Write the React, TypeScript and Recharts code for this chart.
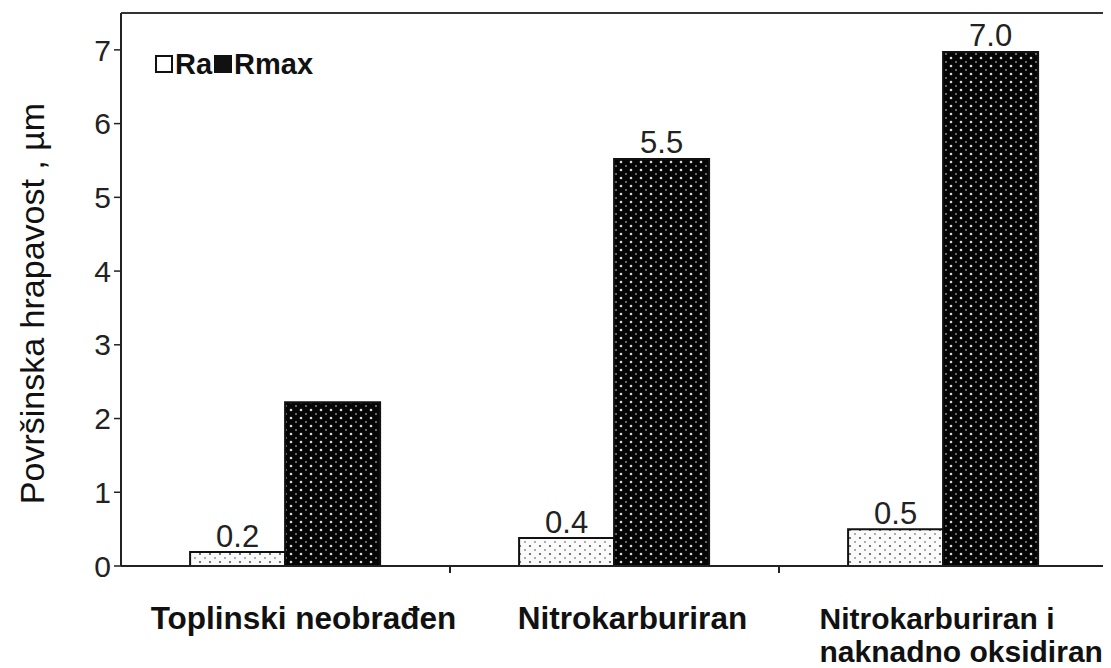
import React from "react";
import { BarChart, Bar, XAxis, YAxis, LabelList, Legend } from "recharts";

const categories = ["Toplinski neobrađen", "Nitrokarburiran", "Nitrokarburiran i\nnaknadno oksidiran"];
const raValues = [0.19, 0.38, 0.5];
const rmaxValues = [2.22, 5.52, 6.97];
const raLabels = ["0.2", "0.4", "0.5"];
const rmaxLabels = ["", "5.5", "7.0"];
const yTicks = [0, 1, 2, 3, 4, 5, 6, 7];
const Y_MAX = 7.5;

const data = categories.map((c, i) => ({
  name: c,
  Ra: raValues[i],
  Rmax: rmaxValues[i],
  raLabel: raLabels[i],
  rmaxLabel: rmaxLabels[i],
}));

const FONT = "'Liberation Sans', Arial, Helvetica, sans-serif";
const W = 1103;
const H = 660;
const M = { top: 5, right: 3, left: 0, bottom: 0 };
const YW = 113;
const XH = 102;
const PLOT_W = W - M.left - M.right - YW;
const HALF_BAND = PLOT_W / categories.length / 2;
const FRAME = {
  left: M.left + YW,
  right: W - M.right,
  top: M.top,
  bottom: H - M.bottom - XH,
};

const XTick = (props: any) => {
  const { x, y, payload } = props;
  const lines = String(payload.value).split("\n");
  const multi = lines.length > 1;
  return (
    <g>
      <line x1={x + HALF_BAND} x2={x + HALF_BAND} y1={y} y2={y + 7} stroke="#222" strokeWidth={2} />
      {lines.map((ln, i) => (
        <text
          key={i}
          x={multi ? x - 124 : x + 18}
          y={y + 63 + i * 33}
          textAnchor={multi ? "start" : "middle"}
          fontFamily={FONT}
          fontWeight="bold"
          fontSize={multi ? 30 : 31.5}
          fill="#111"
        >
          {ln}
        </text>
      ))}
    </g>
  );
};

// Y-axis title, plus the plot frame (top and right edges)
const YLabel = (props: any) => {
  const cx = 24;
  const cy = (FRAME.top + FRAME.bottom) / 2 + 14;
  return (
    <g>
      <line x1={FRAME.left} x2={FRAME.right} y1={FRAME.top} y2={FRAME.top} stroke="#333" strokeWidth={2} />
      <line x1={FRAME.right} x2={FRAME.right} y1={FRAME.top} y2={FRAME.bottom} stroke="#333" strokeWidth={2} />
      <text
        x={cx}
        y={cy}
        transform={`rotate(-90, ${cx}, ${cy})`}
        textAnchor="middle"
        dominantBaseline="central"
        fontFamily={FONT}
        fontSize={34}
        fill="#111"
      >
        Površinska hrapavost , µm
      </text>
    </g>
  );
};

const LegendContent = () => (
  <div
    style={{
      display: "flex",
      alignItems: "center",
      fontFamily: FONT,
      fontSize: 29,
      fontWeight: "bold",
      color: "#111",
      lineHeight: "30px",
      whiteSpace: "nowrap",
    }}
  >
    <span style={{ width: 14, height: 14, border: "2px solid #111", background: "#fff", display: "inline-block", marginRight: 2 }} />
    <span>Ra</span>
    <span style={{ width: 14, height: 14, border: "2px solid #111", background: "#111", display: "inline-block", marginRight: 2, marginLeft: 2 }} />
    <span>Rmax</span>
  </div>
);

export default function App() {
  return (
    <div style={{ width: W, height: H, background: "#fff" }}>
      <BarChart width={W} height={H} data={data} margin={M} barCategoryGap="21%" barGap={0}>
        <defs>
          <pattern id="raPat" x="0" y="0" width="10" height="8" patternUnits="userSpaceOnUse">
            <rect width="10" height="8" fill="#fafafa" />
            <circle cx="2" cy="2" r="1.1" fill="#555" />
            <circle cx="7" cy="6" r="0.9" fill="#888" />
          </pattern>
          <pattern id="rmaxPat" x="0" y="0" width="10" height="8" patternUnits="userSpaceOnUse">
            <rect width="10" height="8" fill="#050505" />
            <circle cx="3" cy="2" r="1.3" fill="#d8d8d8" />
            <circle cx="8" cy="6" r="1.0" fill="#888" />
          </pattern>
        </defs>
        <XAxis
          dataKey="name"
          height={XH}
          interval={0}
          tickLine={false}
          tickSize={0}
          tickMargin={0}
          tick={<XTick />}
          axisLine={{ stroke: "#222", strokeWidth: 2 }}
        />
        <YAxis
          width={YW}
          domain={[0, Y_MAX]}
          ticks={yTicks}
          interval={0}
          tickSize={7}
          tickMargin={3}
          tickLine={{ stroke: "#222", strokeWidth: 1.5 }}
          axisLine={{ stroke: "#222", strokeWidth: 2 }}
          tick={{ fontFamily: FONT, fontSize: 30, fill: "#222" }}
          label={<YLabel />}
        />
        <Legend
          layout="horizontal"
          verticalAlign="middle"
          align="center"
          content={<LegendContent />}
          wrapperStyle={{ top: 41, left: 147, width: "auto" }}
        />
        <Bar dataKey="Ra" fill="url(#raPat)" stroke="#111" strokeWidth={2} isAnimationActive={false}>
          <LabelList dataKey="raLabel" position="top" offset={5} style={{ fontFamily: FONT, fontSize: 31, fill: "#222" }} />
        </Bar>
        <Bar dataKey="Rmax" fill="url(#rmaxPat)" stroke="#111" strokeWidth={2} isAnimationActive={false}>
          <LabelList dataKey="rmaxLabel" position="top" offset={6} style={{ fontFamily: FONT, fontSize: 31, fill: "#222" }} />
        </Bar>
      </BarChart>
    </div>
  );
}
